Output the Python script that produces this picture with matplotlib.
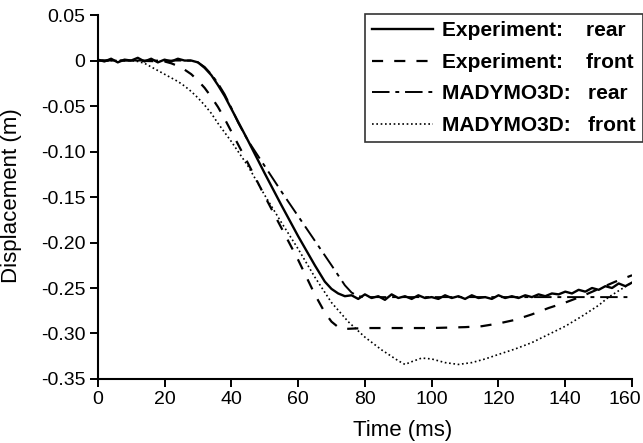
import matplotlib
matplotlib.use("Agg")
import matplotlib.pyplot as plt
from matplotlib.transforms import ScaledTranslation

# experiment, rear (noisy solid line)
exp_rear_t = [0, 2, 4, 6, 8, 10, 12, 14, 16, 18, 20, 22, 24, 26, 28,
              30, 32, 34, 36, 38, 40, 45, 50, 55, 60, 65, 68, 70, 72, 74,
              76, 78, 80, 82, 84, 86, 88, 90, 92, 94, 96, 98, 100, 102, 104,
              106, 108, 110, 112, 114, 116, 118, 120, 122, 124, 126, 128, 130,
              132, 134, 136, 138, 140, 142, 144, 146, 148, 150, 152, 154, 156,
              158, 160]
exp_rear_y = [0.001, -0.001, 0.002, -0.002, 0.001, 0.000, 0.003, -0.001, 0.002,
              -0.002, 0.001, -0.001, 0.002, 0.000, 0.000,
              -0.002, -0.008, -0.016, -0.027, -0.039, -0.053, -0.088, -0.124,
              -0.159, -0.193, -0.225, -0.243, -0.251, -0.256, -0.259,
              -0.258, -0.262, -0.257, -0.261, -0.259, -0.263, -0.257, -0.261,
              -0.259, -0.262, -0.258, -0.261, -0.260, -0.262, -0.258, -0.261,
              -0.259, -0.262, -0.258, -0.261, -0.260, -0.262, -0.258, -0.261,
              -0.259, -0.261, -0.258, -0.260, -0.257, -0.259, -0.256, -0.257,
              -0.254, -0.256, -0.252, -0.254, -0.250, -0.252, -0.248, -0.250,
              -0.245, -0.248, -0.244]

# experiment, front (dashed)
exp_front_t = [0, 10, 20, 22, 24, 26, 28, 30, 32, 34, 36, 38, 40, 45, 50, 55,
               60, 65, 68, 70, 72, 74, 80, 90, 100, 110, 115, 120, 125, 130,
               135, 140, 145, 150, 155, 160]
exp_front_y = [0, 0, -0.001, -0.003, -0.006, -0.010, -0.015, -0.022, -0.030,
               -0.040, -0.051, -0.064, -0.078, -0.113, -0.149, -0.184, -0.219,
               -0.257, -0.277, -0.287, -0.293, -0.295, -0.294, -0.294, -0.294,
               -0.293, -0.292, -0.289, -0.285, -0.279, -0.272, -0.266, -0.259,
               -0.251, -0.243, -0.236]

# MADYMO3D, rear (dash-dot)
mad_rear_t = [0, 20, 28, 30, 32, 34, 36, 38, 40, 42, 45, 50, 55, 60, 65, 70,
              74, 76, 78, 80, 160]
mad_rear_y = [0, 0, 0, -0.002, -0.007, -0.015, -0.025, -0.037, -0.052, -0.068,
              -0.088, -0.116, -0.144, -0.171, -0.198, -0.225, -0.247, -0.255,
              -0.259, -0.260, -0.260]

# MADYMO3D, front (dotted)
mad_front_t = [0, 10, 12, 14, 16, 18, 20, 22, 24, 26, 28, 30, 32, 34, 36, 38,
               40, 45, 50, 55, 60, 65, 70, 75, 80, 85, 90, 92, 94, 97, 100, 104,
               108, 112, 116, 120, 125, 130, 135, 140, 145, 150, 153, 156, 160]
mad_front_y = [0, 0, -0.001, -0.003, -0.007, -0.011, -0.015, -0.019, -0.023,
               -0.028, -0.034, -0.041, -0.049, -0.058, -0.069, -0.079, -0.089,
               -0.116, -0.148, -0.178, -0.207, -0.238, -0.266, -0.287, -0.304,
               -0.318, -0.330, -0.334, -0.331, -0.327, -0.328, -0.332, -0.334,
               -0.332, -0.328, -0.323, -0.317, -0.310, -0.301, -0.292, -0.281,
               -0.269, -0.260, -0.253, -0.244]

x_ticks = [0, 20, 40, 60, 80, 100, 120, 140, 160]
y_ticks = [0.05, 0, -0.05, -0.10, -0.15, -0.20, -0.25, -0.30, -0.35]
y_tick_labels = ["0.05", "0", "-0.05", "-0.10", "-0.15", "-0.20", "-0.25", "-0.30", "-0.35"]

plt.rcParams["font.family"] = ["Liberation Sans", "DejaVu Sans"]

fig = plt.figure(figsize=(6.43, 4.43), dpi=100)
ax = fig.add_axes([0.152, 0.1445, 0.831, 0.8215])

ax.plot(exp_rear_t, exp_rear_y, color="black", lw=1.7, ls="-",
        label="Experiment:    rear")
ax.plot(exp_front_t, exp_front_y, color="black", lw=1.6, ls=(0, (5, 5)),
        label="Experiment:    front")
ax.plot(mad_rear_t, mad_rear_y, color="black", lw=1.4, ls=(0, (9, 3, 2, 3)),
        label="MADYMO3D:   rear")
ax.plot(mad_front_t, mad_front_y, color="black", lw=1.2, ls=(0, (1, 1.6)),
        label="MADYMO3D:   front")

ax.set_xlim(0, 160)
ax.set_ylim(-0.35, 0.05)
ax.set_xticks(x_ticks)
ax.set_yticks(y_ticks)
ax.set_yticklabels(y_tick_labels)
ax.tick_params(labelsize=14, width=1.4, length=6, direction="out", pad=3)

# last x label sits against the right edge, nudge it left like the original
last = ax.get_xticklabels()[-1]
last.set_transform(last.get_transform() + ScaledTranslation(-7 / 100, 0, fig.dpi_scale_trans))

for side in ["top", "right"]:
    ax.spines[side].set_visible(False)
for side in ["left", "bottom"]:
    ax.spines[side].set_linewidth(1.5)

ax.set_xlabel("Time (ms)", fontsize=16)
ax.set_ylabel("Displacement (m)", fontsize=16)
ax.xaxis.set_label_coords(0.571, -0.113)
ax.yaxis.set_label_coords(-0.142, 0.503)

leg = fig.legend(loc="upper right", bbox_to_anchor=(1.0, 1 - 14 / 443),
                 borderaxespad=0, fancybox=False, frameon=True,
                 prop={"weight": "bold", "size": 15}, handlelength=2.9,
                 labelspacing=0.6, borderpad=0.35, handletextpad=0.45)
leg.get_frame().set_edgecolor("black")
leg.get_frame().set_linewidth(1.2)

fig.savefig("out.png", dpi=100)
